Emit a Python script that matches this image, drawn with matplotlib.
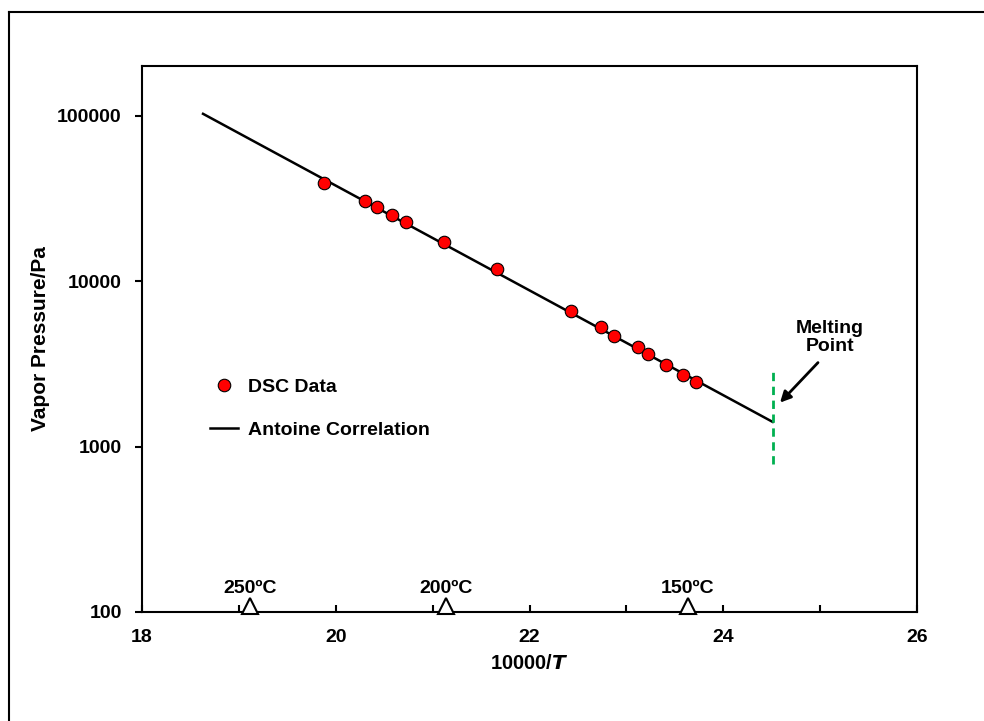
import matplotlib.pyplot as plt
import matplotlib.ticker as mticker
from matplotlib.lines import Line2D

plt.rcParams['font.family'] = ['Liberation Sans', 'DejaVu Sans']
plt.rcParams['font.weight'] = 'bold'

# DSC data (10000/T, vapor pressure in Pa)
dsc_x = [19.88, 20.30, 20.43, 20.58, 20.73, 21.12, 21.66, 22.43, 22.74, 22.87,
         23.12, 23.22, 23.41, 23.58, 23.72]
dsc_p = [39500, 30600, 28000, 25200, 22900, 17300, 11900, 6640, 5300, 4690,
         4020, 3640, 3120, 2700, 2460]

# Antoine correlation line
antoine_x = [18.63, 24.51]
antoine_p = [102800, 1410]

# melting point marker
melt_x = 24.51
melt_p = [780, 3000]

# reference temperatures (deg C)
ref_temps = [250, 200, 150]
ref_labels = ['250ºC', '200ºC', '150ºC']

fig = plt.figure(figsize=(9.84, 7.21), dpi=100)
# outer frame (only left and top edges fall inside the image)
fig.add_artist(Line2D([9 / 984, 9 / 984], [0, 1 - 12 / 721], transform=fig.transFigure,
                      color='black', linewidth=1.5))
fig.add_artist(Line2D([9 / 984, 1], [1 - 12 / 721, 1 - 12 / 721], transform=fig.transFigure,
                      color='black', linewidth=1.5))
ax = fig.add_axes([142 / 984, 1 - 612 / 721, (917 - 142) / 984, (612 - 66) / 721])

dsc, = ax.plot(dsc_x, dsc_p, 'o', color='red', markeredgecolor='black', markeredgewidth=0.8,
               markersize=9, linestyle='none', label='DSC Data', zorder=3)
ant, = ax.plot(antoine_x, antoine_p, color='black', linewidth=1.8,
               label='Antoine Correlation', zorder=2)
ax.plot([melt_x, melt_x], melt_p, color='#00B050', linestyle=(0, (3, 2)), linewidth=2, zorder=2)

ref_x = [10000 / (t + 273.15) for t in ref_temps]
ax.plot(ref_x, [108] * len(ref_x), '^', markerfacecolor='white', markeredgecolor='black',
        markeredgewidth=1.5, markersize=12, linestyle='none', clip_on=False, zorder=4)
for xv, lab in zip(ref_x, ref_labels):
    ax.text(xv, 124, lab, ha='center', va='bottom', fontsize=14, fontweight='bold')

ax.annotate('', xy=(24.586, 1845), xytext=(24.978, 3220),
            arrowprops=dict(arrowstyle='-|>', color='black', lw=2, mutation_scale=16,
                            shrinkA=0, shrinkB=0))
ax.text(25.10, 4560, 'Melting\nPoint', ha='center', va='center', fontsize=14,
        fontweight='bold', linespacing=1.05)

ax.set_yscale('log')
ax.set_xlim(18, 26)
ax.set_ylim(100, 200000)
ax.set_xticks([18, 20, 22, 24, 26])
ax.xaxis.set_minor_locator(mticker.MultipleLocator(1))
ax.set_yticks([100, 1000, 10000, 100000])
ax.yaxis.set_major_formatter(mticker.FuncFormatter(lambda v, p: f'{int(v)}'))
ax.yaxis.set_minor_locator(mticker.NullLocator())
ax.tick_params(axis='x', which='both', direction='in', length=5, width=1.5, labelsize=14, pad=12)
ax.tick_params(axis='y', which='major', direction='out', length=5, width=1.5, labelsize=14, pad=9.5)
for lab in ax.get_xticklabels() + ax.get_yticklabels():
    lab.set_fontweight('bold')
for s in ax.spines.values():
    s.set_linewidth(1.5)

ax.set_ylabel('Vapor Pressure/Pa', fontsize=15, fontweight='bold', labelpad=5)
ax.set_xlabel(r'10000/$\mathbfit{T}$', fontsize=14.5, fontweight='bold', labelpad=6)

ax.legend(handles=[dsc, ant], loc='upper left', bbox_to_anchor=(0.065, 0.46), frameon=False,
          fontsize=14, handlelength=1.45, labelspacing=1.3, handletextpad=0.5)

fig.savefig('out.png', dpi=100)
